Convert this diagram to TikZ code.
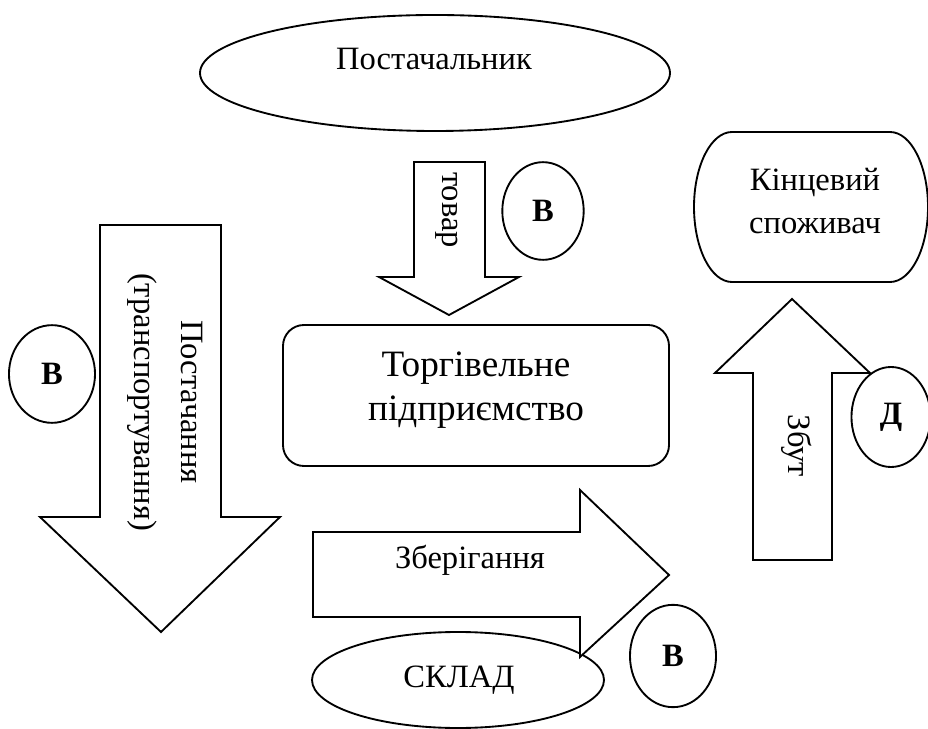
\documentclass[tikz,border=0pt]{standalone}
\usepackage{fontspec}
\setmainfont{Liberation Serif}
\usetikzlibrary{shapes.geometric,positioning}

\begin{document}
\begin{tikzpicture}[x=0.43pt, y=-0.43pt, line width=0.8pt,
    txt/.style={font=\fontsize{14}{19}\selectfont, align=center, inner sep=0pt},
    bigtxt/.style={font=\fontsize{16}{19}\selectfont, align=center, inner sep=0pt},
    lettr/.style={draw, ellipse, fill=white, inner sep=0pt, font=\fontsize{14}{16}\selectfont\bfseries},
    blk/.style={draw=black, fill=white}]
    \useasboundingbox (0,0) rectangle (928,729);

    % supplier
    \draw[blk] (435,73) ellipse (235 and 58);
    \node[txt, anchor=base] (supp) at (434,70) {Постачальник};

    % goods arrow
    \draw[blk] (414,162) -- (485,162) -- (485,277) -- (519,277) -- (449,315)
        -- (379,277) -- (414,277) -- cycle;
    \node[txt, rotate=-90] (goods) at (447,210) {товар};
    \node[lettr, minimum width=35pt, minimum height=42pt] (b1) at (543,211) {В};

    % trade enterprise
    \draw[blk, rounded corners=9pt] (283,325) rectangle (669,466);
    \node[bigtxt] (trade) at (476,390) {Торгівельне\\підприємство};

    % supply (transportation)
    \draw[blk] (100,225) -- (221,225) -- (221,517) -- (280,517) -- (161,632)
        -- (40,517) -- (100,517) -- cycle;
    \node[txt, rotate=-90, font=\fontsize{14}{20}\selectfont] (supply) at (165,402)
        {Постачання\\(транспортування)};
    \node[lettr, minimum width=37pt, minimum height=42pt] (b2) at (52,374) {В};

    % end consumer
    \draw[blk] (732,132) -- (890,132) arc[start angle=-90, end angle=90, x radius=38, y radius=75]
        -- (732,282) arc[start angle=90, end angle=270, x radius=38, y radius=75] -- cycle;
    \node[txt, font=\fontsize{14}{18.5}\selectfont] (cons) at (815,201) {Кінцевий\\споживач};

    % sales arrow
    \draw[blk] (753,560) -- (753,373) -- (715,373) -- (792,299) -- (870,373)
        -- (832,373) -- (832,560) -- cycle;
    \node[txt, rotate=-90] (sales) at (797,446) {Збут};
    \node[lettr, minimum width=34pt, minimum height=43pt] (d1) at (891,417) {Д};

    % warehouse
    \draw[blk] (458,680) ellipse (146 and 48);
    \node[txt, anchor=base] (store) at (459,687) {СКЛАД};

    % storage arrow
    \draw[blk] (313,532) -- (580,532) -- (580,490) -- (669,575) -- (580,657)
        -- (580,617) -- (313,617) -- cycle;
    \node[txt, anchor=base] (keep) at (470,568) {Зберігання};
    \node[lettr, minimum width=37pt, minimum height=44pt] (b3) at (673,656) {В};
\end{tikzpicture}
\end{document}
